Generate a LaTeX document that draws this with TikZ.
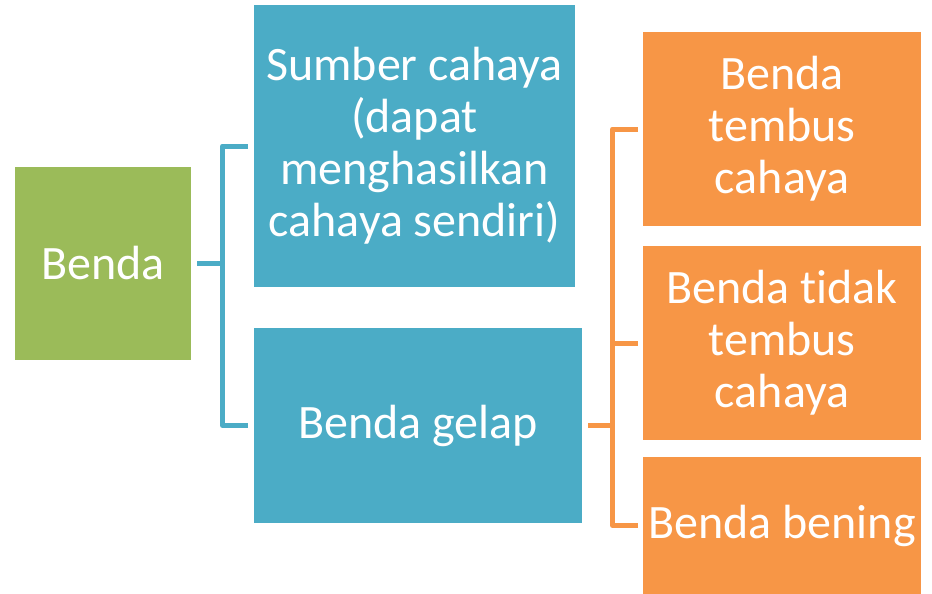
\documentclass[tikz,border=0pt]{standalone}
\usepackage{fontspec}
\setmainfont[Ligatures=NoCommon]{Carlito}
\definecolor{cgreen}{HTML}{9BBB59}
\definecolor{cblue}{HTML}{4BACC6}
\definecolor{corange}{HTML}{F79646}
\begin{document}
\begin{tikzpicture}[x=1pt,y=-1pt,
  box/.style={rectangle, inner sep=0pt, text=white, align=center,
    font=\fontsize{48}{52}\selectfont},
  gbox/.style={box, fill=cgreen},
  bbox/.style={box, fill=cblue},
  obox/.style={box, fill=corange},
  bline/.style={draw=cblue, line width=5pt, line join=round},
  oline/.style={draw=corange, line width=5pt, line join=round}]
\useasboundingbox (0,0) rectangle (932,594);
\node[gbox, minimum width=176pt, minimum height=193pt] (g) at (103,263.5) {Benda};
\node[bbox, minimum width=321pt, minimum height=282pt] (b1) at (414.5,146) {Sumber cahaya\\(dapat\\menghasilkan\\cahaya sendiri)};
\node[bbox, minimum width=328pt, minimum height=195pt] (b2) at (418,425.5) {Benda gelap};
\node[obox, minimum width=278pt, minimum height=194pt] (o1) at (782,129) {Benda\\tembus\\cahaya};
\node[obox, minimum width=278pt, minimum height=194pt] (o2) at (782,343) {Benda tidak\\tembus\\cahaya};
\node[obox, minimum width=278pt, minimum height=137pt] (o3) at (782,525.5) {Benda bening};
\coordinate (bj) at (222.5,263.5);
\coordinate (oj) at (612.5,425.5);
\draw[bline] ([xshift=-6pt]b1.west) -| (bj) |- ([xshift=-6pt]b2.west);
\draw[bline] ([xshift=6pt]g.east) -- (bj);
\draw[oline] ([xshift=-5pt]o1.west) -| (oj) |- ([xshift=-5pt]o3.west);
\draw[oline] ([xshift=-5pt]o2.west) -- (o2.west -| oj);
\draw[oline] ([xshift=6pt]b2.east) -- (oj);
\end{tikzpicture}
\end{document}
